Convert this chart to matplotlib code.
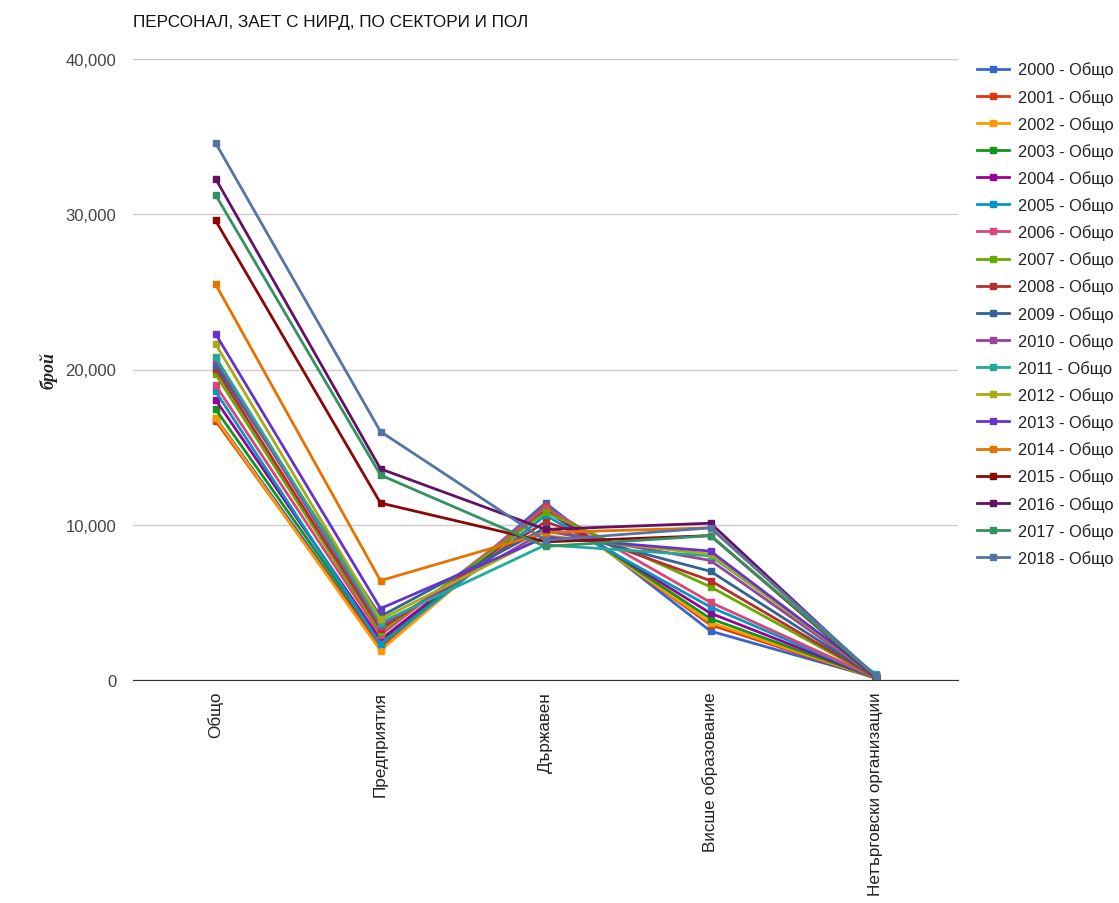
import numpy as np
import matplotlib.pyplot as plt

plt.rcParams['font.family'] = ['Liberation Sans', 'DejaVu Sans']

sectors = ['Общо', 'Предприятия', 'Държавен', 'Висше образование',
           'Нетърговски организации']
years = list(range(2000, 2019))

# персонал по сектори за всяка година (общо, предприятия, държавен, висше, нетърговски)
v2000 = [16900, 2200, 11400, 3150, 150]
v2001 = [16700, 2100, 11200, 3550, 120]
v2002 = [16850, 1900, 11000, 3700, 120]
v2003 = [17450, 2400, 11000, 3950, 130]
v2004 = [18050, 2600, 10900, 4300, 150]
v2005 = [18600, 2300, 10600, 4700, 150]
v2006 = [19000, 2900, 11100, 5000, 160]
v2007 = [19700, 3100, 10800, 6000, 170]
v2008 = [20050, 3300, 10200, 6400, 180]
v2009 = [20300, 4100, 9800, 7000, 200]
v2010 = [20600, 3500, 9600, 7700, 220]
v2011 = [20800, 3700, 8700, 8000, 400]
v2012 = [21650, 3900, 9300, 8100, 250]
v2013 = [22300, 4600, 9200, 8300, 260]
v2014 = [25500, 6400, 9500, 9800, 200]
v2015 = [29600, 11400, 8900, 9300, 180]
v2016 = [32300, 13600, 9700, 10100, 200]
v2017 = [31250, 13200, 8600, 9300, 250]
v2018 = [34600, 16000, 9000, 9800, 300]

series = [v2000, v2001, v2002, v2003, v2004, v2005, v2006, v2007, v2008,
          v2009, v2010, v2011, v2012, v2013, v2014, v2015, v2016, v2017, v2018]

colors = ['#3366cc', '#dc3912', '#ff9900', '#109618', '#990099', '#0099c6',
          '#dd4477', '#66aa00', '#b82e2e', '#316395', '#994499', '#22aa99',
          '#aaaa11', '#6633cc', '#e67300', '#8b0707', '#651067', '#329262',
          '#5574a6']

fig = plt.figure(figsize=(11.19, 9.04), dpi=100)
ax = fig.add_axes([133 / 1119, 1 - 681 / 904, 825 / 1119, 621 / 904])

x = np.arange(len(sectors))
for yr, vals, c in zip(years, series, colors):
    ax.plot(x, vals, color=c, lw=2, marker='s', markersize=5,
            label=f'{yr} - Общо')

ax.set_xlim(-0.5, len(sectors) - 0.5)
ax.set_ylim(0, 40000)
ax.set_yticks([0, 10000, 20000, 30000, 40000])
ax.set_yticklabels(['0', '10,000', '20,000', '30,000', '40,000'])
ax.set_xticks(x)
ax.set_xticklabels(sectors, rotation=90, va='top', ha='center')
ax.tick_params(axis='y', length=0, pad=12, labelsize=12, labelcolor='#444444')
ax.tick_params(axis='x', length=0, pad=8, labelsize=12.3, labelcolor='#222222')
ax.grid(axis='y', color='#cccccc', lw=1)
ax.set_axisbelow(True)
for s in ['top', 'right', 'left']:
    ax.spines[s].set_visible(False)
ax.spines['bottom'].set_color('#333333')

ax.set_ylabel('брой', family=['Liberation Serif', 'DejaVu Serif'],
              style='italic', fontweight='bold', fontsize=13, labelpad=6,
              color='#222222')

fig.text(133 / 1119, 1 - 22 / 904, 'ПЕРСОНАЛ, ЗАЕТ С НИРД, ПО СЕКТОРИ И ПОЛ',
         fontsize=12.3, color='#111111', va='center', ha='left')

ax.legend(loc='upper left', bbox_to_anchor=(970 / 1119, 1 - 56 / 904),
          bbox_transform=fig.transFigure, frameon=False, fontsize=11.8,
          handlelength=2.0, handletextpad=0.55, labelspacing=0.69,
          borderaxespad=0, labelcolor='#222222')

fig.savefig('out.png', dpi=100)
